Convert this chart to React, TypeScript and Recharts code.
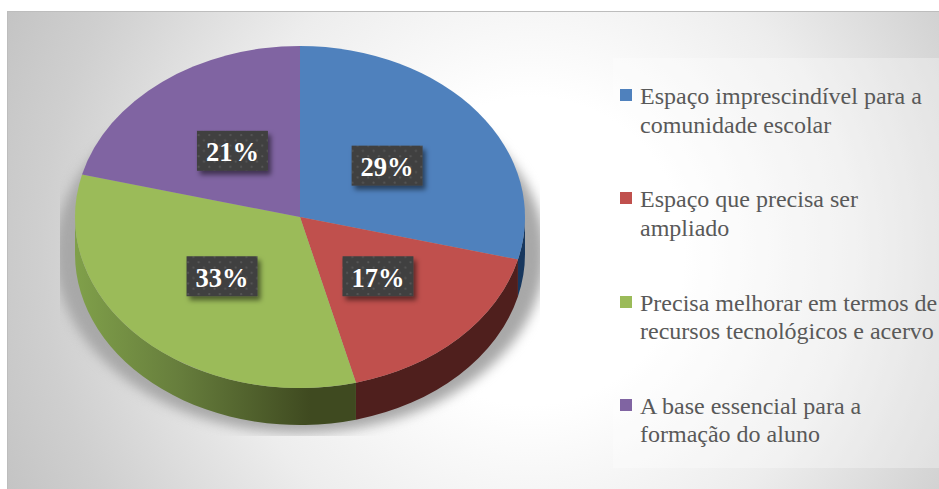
import { Legend, Pie, PieChart } from "recharts";

const categories = [
  "Espaço imprescindível para a comunidade escolar",
  "Espaço que precisa ser ampliado",
  "Precisa melhorar em termos de recursos tecnológicos e acervo",
  "A base essencial para a formação do aluno",
];
const shares = [29, 17, 33, 21];
const topColors = ["#4f81bd", "#c0504d", "#9bbb59", "#8064a2"];
const wallColors = ["#17375e", "#4f1f1d", "url(#greenWall)", "#403152"];

const table = categories.map((name, i) => ({
  name,
  value: shares[i],
  fill: topColors[i],
  wall: wallColors[i],
}));

const WIDTH = 939;
const HEIGHT = 489;
const CX = 300;
const CY = 217;
const RX = 225;
const SQUASH = 171 / 225; // vertical flattening of the tilted disc
const DEPTH = 37;
const SERIF = "Liberation Serif";

const rad = (deg: number) => (deg * Math.PI) / 180;

const rimPoint = (cx: number, cy: number, r: number, deg: number) => [
  cx + r * Math.cos(rad(deg)),
  cy - r * SQUASH * Math.sin(rad(deg)),
];

// Top face of a slice, as an elliptical sector
const TopFace = ({ cx, cy, outerRadius: r, startAngle, endAngle, fill }: any) => {
  const [x1, y1] = rimPoint(cx, cy, r, startAngle);
  const [x2, y2] = rimPoint(cx, cy, r, endAngle);
  const large = startAngle - endAngle > 180 ? 1 : 0;
  const ry = r * SQUASH;
  return (
    <path
      d={`M${cx},${cy} L${x1},${y1} A${r},${ry} 0 ${large} 1 ${x2},${y2} Z`}
      fill={fill}
    />
  );
};

// Side wall, only the part of the slice on the front half of the disc
const SideWall = ({ cx, cy, outerRadius: r, startAngle, endAngle, wall }: any) => {
  const from = Math.min(startAngle, 0);
  const to = Math.max(endAngle, -180);
  if (from <= to) return null;
  const [x1, y1] = rimPoint(cx, cy, r, from);
  const [x2, y2] = rimPoint(cx, cy, r, to);
  const ry = r * SQUASH;
  return (
    <path
      d={`M${x1},${y1} A${r},${ry} 0 0 1 ${x2},${y2} L${x2},${y2 + DEPTH} A${r},${ry} 0 0 0 ${x1},${y1 + DEPTH} Z`}
      fill={wall}
    />
  );
};

// Dark percentage tag placed halfway out along the slice
const PercentTag = ({ cx, cy, outerRadius: r, midAngle, value }: any) => {
  const [x, y] = rimPoint(cx, cy, r * 0.49, midAngle);
  return (
    <g>
      <rect
        x={x - 35.5}
        y={y - 20}
        width={71}
        height={40}
        fill="url(#tagDots)"
        filter="url(#tagShadow)"
      />
      <text
        x={x}
        y={y + 10.5}
        textAnchor="middle"
        fill="#ffffff"
        style={{ fontFamily: SERIF, fontSize: 26.5, fontWeight: "bold" }}
      >
        {value}%
      </text>
    </g>
  );
};

// Only the top-face series is listed
const LegendList = ({ payload }: any) => (
  <div>
    {(payload || [])
      .filter((entry: any) => entry.type !== "none")
      .map((entry: any) => (
        <div
          key={entry.value}
          style={{
            position: "relative",
            height: 103.3,
            paddingLeft: 20,
            fontFamily: SERIF,
            fontSize: 24,
            lineHeight: "28.5px",
            color: "#595959",
          }}
        >
          <span
            style={{
              position: "absolute",
              left: 0,
              top: 7,
              width: 12,
              height: 12,
              background: entry.color,
            }}
          />
          {entry.value}
        </div>
      ))}
  </div>
);

export default function App() {
  return (
    <div
      style={{
        position: "absolute",
        left: 0,
        top: 0,
        width: WIDTH,
        height: HEIGHT,
        overflow: "hidden",
        background: "#ffffff",
        fontFamily: SERIF,
      }}
    >
      {/* Slide panel */}
      <div
        style={{
          position: "absolute",
          left: 7,
          top: 11,
          right: 0,
          bottom: 0,
          boxSizing: "border-box",
          borderLeft: "1px solid #bdbdbd",
          borderTop: "1px solid #bdbdbd",
          background:
            "radial-gradient(circle 590px at 523px 239px, #ffffff 0%, #ffffff 26%, #ededed 54%, #d5d5d5 77%, #cfcfcf 83%, #c2c2c2 100%)",
        }}
      />
      {/* Legend backing */}
      <div
        style={{
          position: "absolute",
          left: 613,
          top: 58,
          right: 0,
          height: 410,
          background: "rgba(255,255,255,0.3)",
        }}
      />
      {/* Soft shadow under the disc, cut off by its box */}
      <div
        style={{
          position: "absolute",
          left: 60,
          top: 100,
          width: 480,
          height: 336,
          overflow: "hidden",
        }}
      >
        <div
          style={{
            position: "absolute",
            left: -5,
            top: -27,
            width: 490,
            height: 360,
            borderRadius: "50%",
            background: "#a8a8a8",
            filter: "blur(6px)",
          }}
        />
      </div>
      <div style={{ position: "absolute", left: 0, top: 0 }}>
        <PieChart width={WIDTH} height={HEIGHT} margin={{ top: 0, right: 0, bottom: 0, left: 0 }}>
          <defs>
            <linearGradient id="greenWall" gradientUnits="userSpaceOnUse" x1={75} y1={0} x2={310} y2={0}>
              <stop offset="0%" stopColor="#80a04a" />
              <stop offset="45%" stopColor="#667d3c" />
              <stop offset="100%" stopColor="#3f4a20" />
            </linearGradient>
            <pattern id="tagDots" patternUnits="userSpaceOnUse" width={10.6} height={10.6}>
              <rect width={10.6} height={10.6} fill="#404040" />
              <circle cx={2.6} cy={2.6} r={1.1} fill="#565656" />
              <circle cx={7.9} cy={7.9} r={1.1} fill="#565656" />
            </pattern>
            <filter id="tagShadow" x="-20%" y="-30%" width="150%" height="170%">
              <feDropShadow dx={3} dy={4} stdDeviation={2.5} floodColor="#000000" floodOpacity={0.5} />
            </filter>
          </defs>
          <Pie
            data={table}
            dataKey="value"
            nameKey="name"
            cx={CX}
            cy={CY}
            outerRadius={RX}
            startAngle={90}
            endAngle={-270}
            stroke="none"
            legendType="none"
            shape={SideWall}
            inactiveShape={SideWall}
            isAnimationActive={false}
          />
          <Pie
            data={table}
            dataKey="value"
            nameKey="name"
            cx={CX}
            cy={CY}
            outerRadius={RX}
            startAngle={90}
            endAngle={-270}
            stroke="none"
            shape={TopFace}
            inactiveShape={TopFace}
            label={PercentTag}
            labelLine={false}
            isAnimationActive={false}
          />
          <Legend
            layout="vertical"
            align="right"
            verticalAlign="top"
            itemSorter={null}
            content={LegendList}
            wrapperStyle={{ left: 620, top: 82, width: 319, right: "auto" }}
          />
        </PieChart>
      </div>
    </div>
  );
}
